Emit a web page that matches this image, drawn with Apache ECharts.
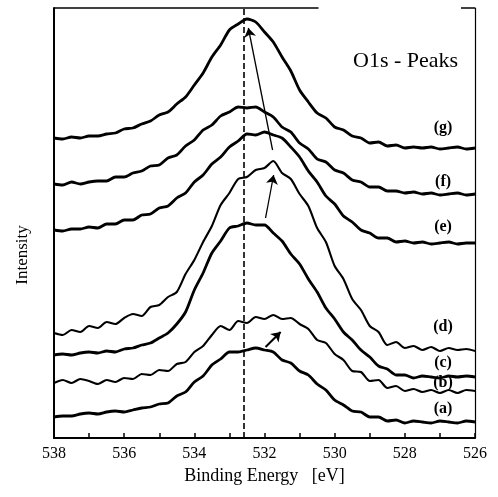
<!DOCTYPE html>
<html>
<head>
<meta charset="utf-8">
<script src="https://cdn.jsdelivr.net/npm/echarts@6/dist/echarts.min.js"></script>
<style>html,body{margin:0;padding:0;background:#fff;}#c{width:498px;height:497px;}</style>
</head>
<body>
<div id="c"></div>
<script>
const energy = [538,537.75,537.5,537.25,537,536.75,536.5,536.25,536,535.75,535.5,535.25,535,534.75,534.5,534.25,534,533.75,533.5,533.25,533,532.75,532.5,532.25,532,531.75,531.5,531.25,531,530.75,530.5,530.25,530,529.75,529.5,529.25,529,528.75,528.5,528.25,528,527.75,527.5,527.25,527,526.75,526.5,526.25,526];
const curveG = [300,299,301,300,302,302,304,305,309,310,314,317,323,326,334,341,353,365,381,393,408,414,419,416,406,396,381,367,348,336,325,320,311,308,302,300,295,296,292,293,290,291,290,291,289,290,291,289,290];
const curveF = [254,253,256,254,256,257,257,261,261,265,267,272,273,280,283,292,298,308,313,322,326,331,330,331,326,321,311,306,295,289,279,276,268,265,258,256,251,251,247,247,245,246,244,245,243,244,245,243,244];
const curveE = [208,207,209,209,211,210,214,214,218,218,223,224,230,232,240,245,256,263,274,281,291,297,304,303,306,303,300,291,281,267,256,242,234,222,216,208,205,200,200,196,197,195,196,194,195,196,194,195,195];
const curveD = [105,103,108,106,112,110,116,114,120,124,122,131,133,141,146,164,178,196,212,233,245,259,261,268,270,277,265,259,244,232,210,196,172,159,139,128,112,106,93,96,90,92,88,91,87,90,88,89,87];
const curveC = [83,84,83,85,86,85,87,86,89,90,93,95,100,105,114,126,148,165,185,197,210,212,215,213,213,205,197,184,174,159,146,130,119,106,98,88,81,72,69,63,63,60,62,61,60,62,61,62,61];
const curveB = [55,58,55,59,57,54,58,56,60,59,64,63,68,67,74,76,86,92,103,112,108,117,115,121,119,123,119,120,114,109,98,95,84,78,67,66,57,58,50,52,47,49,46,48,45,48,45,48,47];
const curveA = [21,22,22,24,25,24,26,27,26,28,30,31,34,35,42,46,56,62,73,79,86,86,88,90,88,86,78,75,67,63,54,48,38,33,27,26,21,21,17,18,15,17,16,15,17,16,15,17,16];
const curveNames = ['(a)','(b)','(c)','(d)','(e)','(f)','(g)'];
const curveValues = [curveA, curveB, curveC, curveD, curveE, curveF, curveG];
const labelEnergy = 526.91;
const labelLevels = [29, 55, 75, 111, 211, 256, 310];
const dashEnergy = 532.6;
const arrowStarts = [[531.77, 288], [531.97, 220], [531.97, 91]];
const arrowEnds = [[532.46, 410], [531.74, 263], [531.54, 106]];
const topBorderSegments = [[[538, 430], [530.46, 430]], [[526.4, 430], [526, 430]]];
const xTicks = {min: 526, max: 538, step: 1};
const yRange = {min: 0, max: 430};

const serif = "'Liberation Serif', 'DejaVu Serif', serif";
const chart = echarts.init(document.getElementById('c'), null, {renderer: 'canvas'});

const series = curveValues.map((vals, i) => ({
  type: 'line',
  name: curveNames[i],
  data: energy.map((e, k) => [e, vals[k]]),
  showSymbol: false,
  smooth: 0.25,
  lineStyle: {color: '#000', width: (i === 1 || i === 3) ? 2.1 : 2.8},
  silent: true,
  animation: false,
  z: 3,
  markPoint: {
    symbol: 'rect', symbolSize: 1,
    itemStyle: {color: 'rgba(0,0,0,0)'},
    label: {show: true, position: 'inside', formatter: curveNames[i], color: '#000',
      fontFamily: serif, fontWeight: 'bold', fontSize: 16},
    data: [{coord: [labelEnergy, labelLevels[i]]}]
  }
}));

series.push({
  type: 'line', data: [], silent: true, animation: false,
  markLine: {
    silent: true, animation: false, symbol: ['none', 'none'],
    label: {show: false},
    lineStyle: {color: '#000', type: [6, 3], width: 1.6},
    data: [{xAxis: dashEnergy}]
  }
});
series.push({
  type: 'line', data: [], silent: true, animation: false,
  markLine: {
    silent: true, animation: false, symbol: ['none', 'arrow'], symbolSize: 9,
    label: {show: false},
    lineStyle: {color: '#000', type: 'solid', width: 1.3},
    data: arrowStarts.map((s, i) => [{coord: s}, {coord: arrowEnds[i], lineStyle: i === 2 ? {width: 2} : {}}])
  }
});
series.push({
  type: 'line', data: [], silent: true, animation: false,
  markLine: {
    silent: true, animation: false, symbol: ['none', 'none'],
    label: {show: false},
    lineStyle: {color: '#000', type: 'solid', width: 1.5},
    data: topBorderSegments.map(seg => [{coord: seg[0]}, {coord: seg[1]}])
  }
});

chart.setOption({
  animation: false,
  backgroundColor: '#fff',
  title: {
    text: 'O1s - Peaks', left: 353, top: 50, padding: 0,
    textStyle: {fontFamily: serif, fontWeight: 'normal', fontSize: 22, color: '#000'}
  },
  grid: {left: 54, right: 23, top: 8, bottom: 59, containLabel: false},
  xAxis: {
    type: 'value', min: xTicks.min, max: xTicks.max, interval: xTicks.step, inverse: true,
    name: 'Binding Energy   [eV]', nameLocation: 'middle', nameGap: 26,
    nameTextStyle: {fontFamily: serif, fontSize: 18, color: '#000'},
    axisLine: {show: true, onZero: false, lineStyle: {color: '#000', width: 2}},
    axisTick: {show: true, inside: true, length: 5, lineStyle: {color: '#000', width: 1.5}},
    axisLabel: {color: '#000', fontFamily: serif, fontSize: 16, margin: 8,
      formatter: v => (Math.round(v) % 2 === 0 ? String(v) : '')},
    splitLine: {show: false}
  },
  yAxis: [{
    type: 'value', min: yRange.min, max: yRange.max,
    axisLine: {show: true, lineStyle: {color: '#000', width: 2}},
    axisTick: {show: false}, axisLabel: {show: false}, splitLine: {show: false}
  }, {
    type: 'value', min: yRange.min, max: yRange.max, position: 'right',
    axisLine: {show: true, lineStyle: {color: '#000', width: 1.2}},
    axisTick: {show: false}, axisLabel: {show: false}, splitLine: {show: false}
  }],
  graphic: [{
    type: 'text', x: 23, y: 255, rotation: Math.PI / 2,
    style: {text: 'Intensity', fill: '#000', font: '17px ' + serif, textAlign: 'center', textVerticalAlign: 'middle'}
  }],
  series: series
});
</script>
</body>
</html>
